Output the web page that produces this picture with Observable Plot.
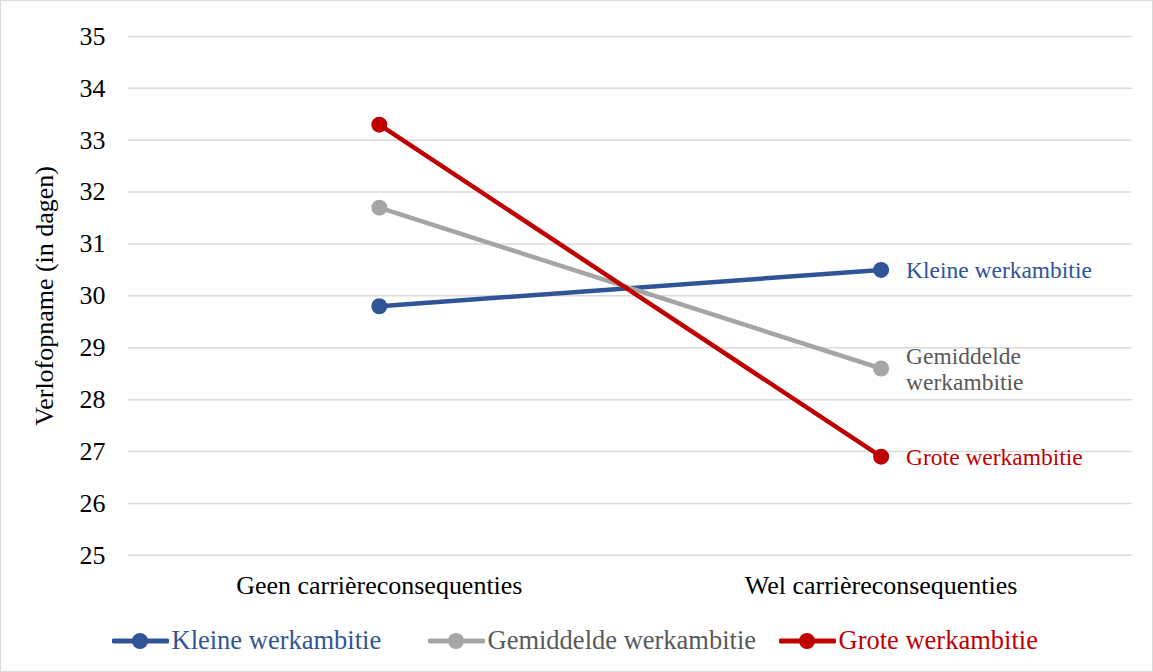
<!DOCTYPE html>
<html>
<head>
<meta charset="utf-8">
<script src="https://cdn.jsdelivr.net/npm/d3@7"></script>
<script src="https://cdn.jsdelivr.net/npm/@observablehq/plot@0.6"></script>
<style>
  html, body { margin: 0; padding: 0; background: #fff; }
  #chart { position: relative; width: 1153px; height: 672px; box-sizing: border-box; border: 1.5px solid #d9d9d9; overflow: hidden; font-family: "Liberation Serif", "Times New Roman", serif; }
  #plot { position: absolute; left: -1.5px; top: -1.5px; }
  #legend { position: absolute; left: -1.5px; top: 612px; width: 1153px; height: 56px; }
  .item { position: absolute; top: 12px; display: flex; align-items: center; font-size: 26.5px; white-space: nowrap; }
  .item svg { margin-right: 3px; }
</style>
</head>
<body>
<div id="chart"><div id="plot"></div><div id="legend"></div></div>
<script>
const categories = ["Geen carrièreconsequenties", "Wel carrièreconsequenties"];
const seriesNames = ["Kleine werkambitie", "Gemiddelde werkambitie", "Grote werkambitie"];
const kleine = [29.8, 30.5];
const gemiddelde = [31.7, 28.6];
const grote = [33.3, 26.9];
const labelTexts = ["Kleine werkambitie", "Gemiddelde\nwerkambitie", "Grote werkambitie"];
const lineColors = ["#2F5597", "#A5A5A5", "#C00000"];
const textColors = ["#2F5597", "#595959", "#C00000"];
const yTicks = [25, 26, 27, 28, 29, 30, 31, 32, 33, 34, 35];

const allValues = [kleine, gemiddelde, grote];
const data = [];
seriesNames.forEach((s, i) => categories.forEach((c, j) => data.push({series: s, cat: c, value: allValues[i][j]})));
const endLabels = seriesNames.map((s, i) => ({series: s, cat: categories[1], value: allValues[i][1], label: labelTexts[i]}));

const color = {domain: seriesNames, range: lineColors};
const plot = Plot.plot({
  width: 1153,
  height: 612,
  marginLeft: 128,
  marginRight: 21,
  marginTop: 36,
  marginBottom: 57,
  style: {fontFamily: "'Liberation Serif', 'Times New Roman', serif", fontSize: "26px", color: "#000", background: "transparent"},
  x: {domain: categories, type: "point", padding: 0.5, label: null},
  y: {domain: [25, 35], label: null},
  color,
  marks: [
    Plot.ruleY(yTicks, {stroke: "#d9d9d9", strokeWidth: 1.5}),
    Plot.axisY({ticks: yTicks, tickSize: 0, tickPadding: 23, fontSize: 26, label: null, tickFormat: d => String(d)}),
    Plot.axisX({tickSize: 0, tickPadding: 20, fontSize: 26, label: null}),
    Plot.text(["Verlofopname (in dagen)"], {frameAnchor: "left", textAnchor: "middle", dx: -84, rotate: -90, fontSize: 26, fill: "#000"}),
    Plot.line(data, {x: "cat", y: "value", z: "series", stroke: "series", strokeWidth: 4.5}),
    Plot.dot(data, {x: "cat", y: "value", fill: "series", r: 8}),
    Plot.text(endLabels, {x: "cat", y: "value", text: "label", fill: d => textColors[seriesNames.indexOf(d.series)], textAnchor: "start", dx: 25, fontSize: 23.5, lineHeight: 1.1})
  ]
});
document.getElementById("plot").appendChild(plot);

const legend = document.getElementById("legend");
const legendLeft = [112, 428, 779];
seriesNames.forEach((s, i) => {
  const item = document.createElement("div");
  item.className = "item";
  item.style.left = legendLeft[i] + "px";
  item.style.color = textColors[i];
  item.innerHTML = `<svg width="57" height="20"><line x1="2" y1="10" x2="55" y2="10" stroke="${lineColors[i]}" stroke-width="5" stroke-linecap="round"/><circle cx="28" cy="10" r="8" fill="${lineColors[i]}"/></svg><span>${s}</span>`;
  legend.appendChild(item);
});
</script>
</body>
</html>
